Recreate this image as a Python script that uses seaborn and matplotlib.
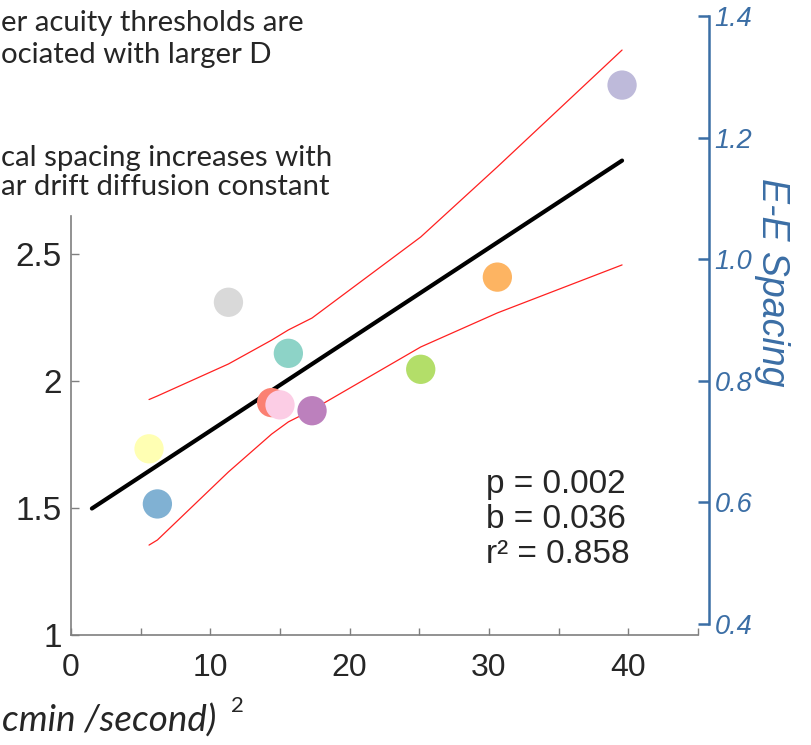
import matplotlib
matplotlib.use("Agg")
import matplotlib.pyplot as plt
import numpy as np
import pandas as pd
import seaborn as sns

# Per-subject drift diffusion constant (arcmin^2/s) and critical spacing
subjects = ["S1", "S2", "S3", "S4", "S5", "S6", "S7", "S8", "S9", "S10"]
diffusion = [15.6, 5.6, 39.55, 14.4, 6.2, 30.6, 25.1, 15.0, 11.3, 17.3]
spacing = [2.109, 1.733, 3.165, 1.915, 1.516, 2.409, 2.046, 1.906, 2.310, 1.883]

# Linear fit summary
p_value = 0.002
slope = 0.036
r_squared = 0.858
intercept = 1.444
fit_range = [1.5, 39.55]

# 95% confidence bounds of the fit, evaluated at the sorted diffusion values
ci_x = [5.6, 6.2, 11.3, 14.4, 15.0, 15.6, 17.3, 25.1, 30.6, 39.55]
ci_upper = [1.927, 1.941, 2.067, 2.161, 2.181, 2.201, 2.248, 2.567, 2.843, 3.303]
ci_lower = [1.354, 1.374, 1.642, 1.791, 1.815, 1.839, 1.886, 2.134, 2.268, 2.457]

# Axis ticks
x_ticks = [0, 10, 20, 30, 40]
x_minor = [5, 15, 25, 35, 45]
x_labels = ["0", "10", "20", "30", "40"]
left_ticks = [1, 1.5, 2, 2.5]
left_labels = ["1", "1.5", "2", "2.5"]
right_ticks = [0.4, 0.6, 0.8, 1.0, 1.2, 1.4]
right_labels = ["0.4", "0.6", "0.8", "1.0", "1.2", "1.4"]

# Slide text
note_lines = ["er acuity thresholds are", "ociated with larger D",
              "cal spacing increases with", "ar drift diffusion constant"]
x_title = "cmin /second)"
right_title = "E-E Spacing"

sns.set_style("white")
plt.rcParams["font.family"] = ["Liberation Sans", "DejaVu Sans"]

W, H = 811, 745
BLUE = "#3b6ea5"
GREY = "#7f7f7f"
SLIDE_FONT = ["Lato", "DejaVu Sans"]


def fx(px):
    return px / W


def fy(py):
    return 1 - py / H


fig = plt.figure(figsize=(W / 100, H / 100), dpi=100)
ax = fig.add_axes([fx(71), fy(635), 627 / W, 622 / H])

df = pd.DataFrame({"subject": subjects, "diffusion": diffusion, "spacing": spacing})
fit_x = np.array(fit_range)
fit_y = intercept + slope * fit_x

sns.lineplot(x=ci_x, y=ci_upper, ax=ax, color="#ff2020", linewidth=0.9,
             estimator=None, sort=False)
sns.lineplot(x=ci_x, y=ci_lower, ax=ax, color="#ff2020", linewidth=0.9,
             estimator=None, sort=False)
sns.lineplot(x=fit_x, y=fit_y, ax=ax, color="black", linewidth=3.0,
             estimator=None, sort=False)
sns.scatterplot(data=df, x="diffusion", y="spacing", hue="subject",
                palette="Set3", s=445, edgecolor="none", linewidth=0,
                legend=False, zorder=3, ax=ax)

ax.set_xlim(0, 45)
ax.set_ylim(1, 1 + 622 / 254)
ax.set_xlabel("")
ax.set_ylabel("")
for side in ("top", "right"):
    ax.spines[side].set_visible(False)
for side in ("left", "bottom"):
    ax.spines[side].set_color(GREY)
    ax.spines[side].set_linewidth(1.2)
ax.spines["left"].set_bounds(1, 2.65)

ax.set_xticks(x_ticks)
ax.set_xticks(x_minor, minor=True)
ax.set_xticklabels(x_labels, fontsize=23)
ax.set_yticks(left_ticks)
ax.set_yticklabels(left_labels, fontsize=24)
ax.tick_params(axis="x", which="both", bottom=True, direction="in", length=5,
               width=1, color=GREY, pad=13)
ax.tick_params(axis="y", which="major", left=True, direction="in", length=6,
               width=1, color=GREY, pad=6.5)
ax.tick_params(axis="y", which="minor", left=False)

ax2 = ax.twinx()
ax2.set_ylim(0.4 - 11 / 608, 1.4 + 3 / 608)
for side in ("top", "left", "bottom"):
    ax2.spines[side].set_visible(False)
ax2.spines["right"].set_visible(True)
ax2.spines["right"].set_position(("outward", 8))
ax2.spines["right"].set_bounds(0.4, 1.4)
ax2.spines["right"].set_color(BLUE)
ax2.spines["right"].set_linewidth(1.8)
ax2.set_yticks(right_ticks)
ax2.set_yticklabels(right_labels, fontsize=19.5, fontstyle="italic", color=BLUE)
ax2.tick_params(axis="y", right=True, left=False, direction="in", length=8,
                width=1.8, color=BLUE, pad=4)
ax2.set_ylabel("")
fig.text(fx(772), fy(282), right_title, rotation=-90, ha="center", va="center",
         fontsize=27, fontstyle="italic", color=BLUE)

# statistics box
stats = [f"p = {p_value:.3f}", f"b = {slope:.3f}", f"r\u00b2 = {r_squared:.3f}"]
for i, s in enumerate(stats):
    fig.text(fx(486), fy(493 + 35 * i), s, ha="left", va="baseline", fontsize=24)

# slide notes and axis title
note_baselines = [31, 63, 166, 195]
for s, b in zip(note_lines, note_baselines):
    fig.text(fx(1), fy(b), s, ha="left", va="baseline", fontsize=21.2,
             fontfamily=SLIDE_FONT)
fig.text(fx(2), fy(732), x_title, ha="left", va="baseline", fontsize=26.5,
         fontstyle="italic", fontfamily=SLIDE_FONT)
fig.text(fx(237), fy(712), "2", ha="center", va="baseline", fontsize=16,
         fontfamily=SLIDE_FONT)

fig.savefig("out.png", dpi=100)
